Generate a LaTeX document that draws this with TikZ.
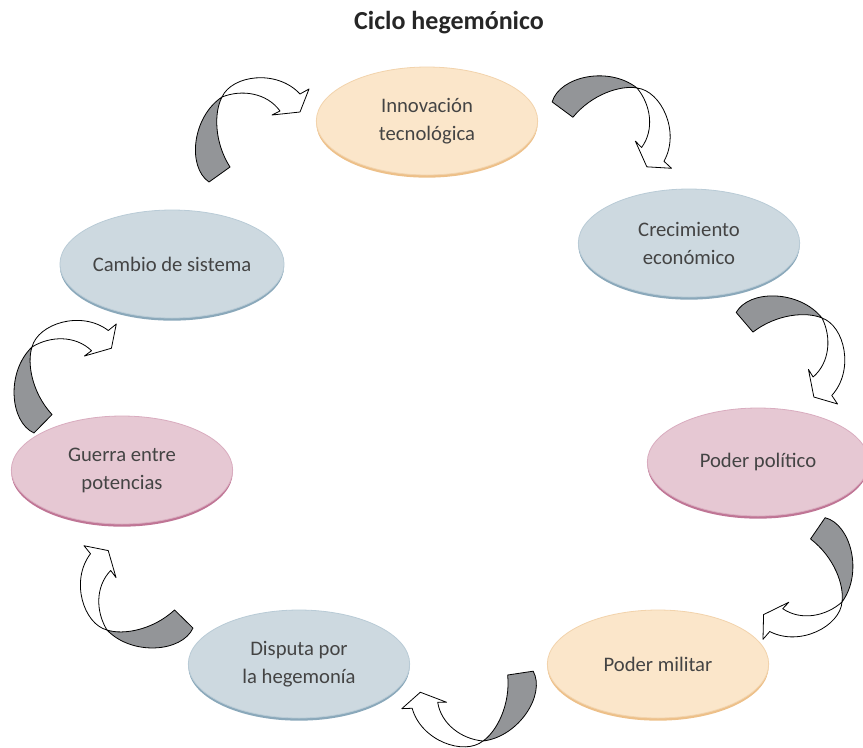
\documentclass[tikz,border=0pt]{standalone}
\usepackage{fontspec}
\setmainfont{Carlito}
\usetikzlibrary{shapes.geometric,shadows}
\definecolor{orangefill}{HTML}{FBE6CA}
\definecolor{orangeedge}{HTML}{EDC089}
\definecolor{bluefill}{HTML}{CDD9E0}
\definecolor{blueedge}{HTML}{8AA8BA}
\definecolor{pinkfill}{HTML}{E6C8D3}
\definecolor{pinkedge}{HTML}{BF7595}
\definecolor{bandgray}{HTML}{939598}
\definecolor{textgray}{HTML}{444444}

\begin{document}
\begin{tikzpicture}[x=0.75pt, y=-0.75pt,
    bubble/.style={ellipse, minimum width=166pt, minimum height=81pt, inner sep=0pt,
      align=center, font=\fontsize{15.5}{21}\selectfont, text=textgray, line width=0.6pt},
    orangebubble/.style={bubble, fill=orangefill, draw=orangeedge!70,
      drop shadow={shadow xshift=0pt, shadow yshift=-2pt, fill=orangeedge, opacity=1}},
    bluebubble/.style={bubble, fill=bluefill, draw=blueedge!60,
      drop shadow={shadow xshift=0pt, shadow yshift=-2pt, fill=blueedge, opacity=1}},
    pinkbubble/.style={bubble, fill=pinkfill, draw=pinkedge!60,
      drop shadow={shadow xshift=0pt, shadow yshift=-2pt, fill=pinkedge, opacity=1}},
    band/.style={draw=black, line width=0.6pt, line join=round},
    pics/twistarrow/.style={code={
      % grey back of the ribbon
      \filldraw[band, fill=bandgray] (0,0) .. controls (-30,20) and (-35,70) .. (-13,85)
        -- (8,70) .. controls (-8,45) and (-8,15) .. (0,0) -- cycle;
      % white front with the head
      \filldraw[band, fill=white] (0,0) .. controls (10,-22) and (55,-28) .. (78,-3)
        -- (87,-8) -- (78,15) -- (50,18) -- (58,14)
        .. controls (45,-4) and (20,-8) .. (0,0) -- cycle;
    }}
  ]
  \useasboundingbox (0,0) rectangle (863,747);

  \node[font=\fontsize{19.5}{23}\selectfont\bfseries, text=black!85] (title) at (449,23) {Ciclo hegemónico};

  % the seven stages, clockwise from the top
  \node[orangebubble] (innov)  at (427,121) {Innovación\\tecnológica};
  \node[bluebubble]   (crec)   at (689,243) {Crecimiento\\económico};
  \node[pinkbubble]   (polit)  at (758,462) {Poder político};
  \node[orangebubble] (milit)  at (658,664) {Poder militar};
  \node[bluebubble]   (disp)   at (299,664) {Disputa por\\la hegemonía};
  \node[pinkbubble]   (guerra) at (122,470) {Guerra entre\\potencias};
  \node[bluebubble]   (cambio) at (172,264) {Cambio de sistema};

  % twisted ribbon arrows between the stages
  \pic at (222,97)                 {twistarrow};
  \pic[rotate=-72]  at (637,88)    {twistarrow};
  \pic[rotate=-85]  at (822,318)   {twistarrow};
  \pic[rotate=-160] at (842,602)   {twistarrow};
  \pic[rotate=-207] at (483,741)   {twistarrow};
  \pic[rotate=100]  at (107,630)   {twistarrow};
  \pic[rotate=10]   at (32,347)    {twistarrow};
\end{tikzpicture}
\end{document}
